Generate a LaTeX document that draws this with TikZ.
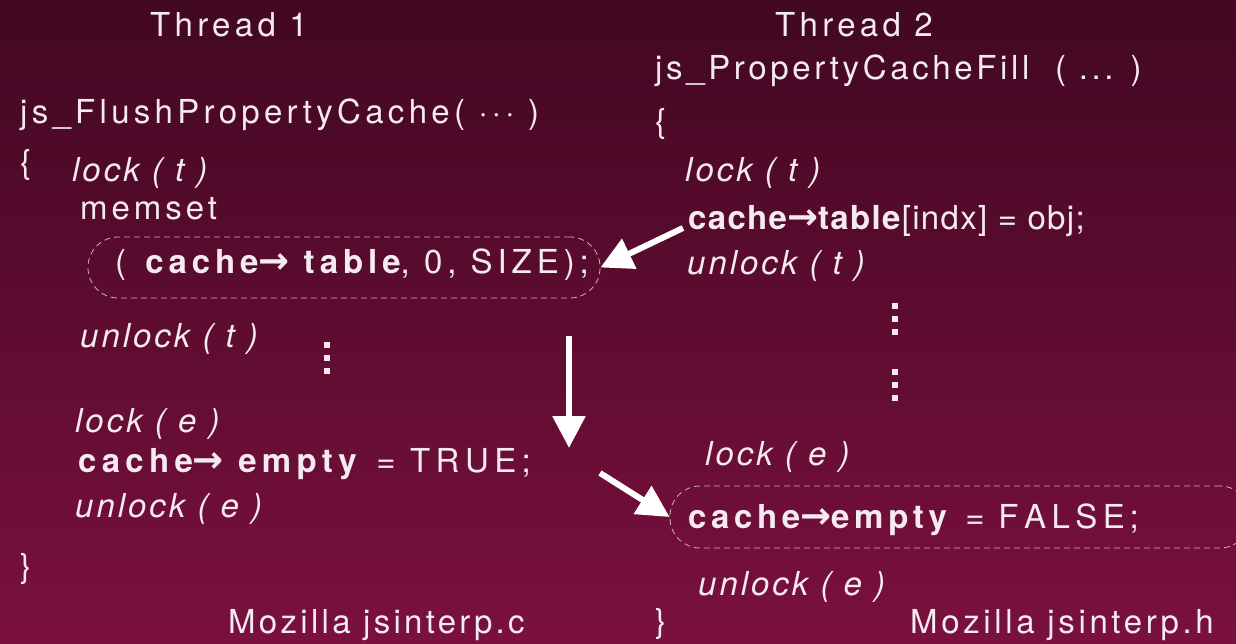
\documentclass[tikz,border=0pt]{standalone}
\usepackage{fontspec}
\setmainfont{TeX Gyre Heros}
\newfontfamily\slantfam{TeX Gyre Heros}
\newfontfamily\symfont{DejaVu Sans}
\usetikzlibrary{arrows.meta}
\definecolor{bgtop}{RGB}{66,8,34}
\definecolor{bgbot}{RGB}{122,16,62}
\definecolor{ink}{RGB}{244,234,240}
\definecolor{dashc}{RGB}{205,175,190}
\newcommand{\ptr}{{\symfont\bfseries\fontsize{37}{40}\selectfont →}}
\begin{document}
\begin{tikzpicture}[x=1pt,y=-1pt,
  txt/.style={inner sep=0pt, anchor=base west, text=ink,
    font=\fontsize{33}{36}\selectfont\addfontfeatures{LetterSpace=#1}},
  txt/.default=10,
  itx/.style={inner sep=0pt, anchor=base west, text=ink,
    font=\fontsize{33}{36}\slantfam\itshape\addfontfeatures{LetterSpace=#1}},
  itx/.default=9,
  codebox/.style={draw=dashc, dashed, dash pattern=on 6pt off 4pt, line width=0.8pt, rounded corners=30pt, inner sep=0pt},
  flow/.style={draw=white, line width=6pt, -{Triangle[length=32pt,width=32pt]}},
  vdot/.style={fill=ink, minimum size=5.5pt, inner sep=0pt}
]
% background
\fill[top color=bgtop, bottom color=bgbot] (0,0) rectangle (1236,644);
\useasboundingbox (0,0) rectangle (1236,644);

% ---- Thread 1 ----
\node[txt=13] (t1) at (150,37) {Thread 1};
\node[txt=13] (f1) at (20,124) {js\_FlushPropertyCache( ··· )};
\node[txt] (ob1) at (20,174) {\{};
\node[itx] (lt1) at (72,182) {lock ( t )};
\node[txt=12] (ms) at (80,220) {memset};
\node[codebox, minimum width=512pt, minimum height=61pt] (boxA) at (344,267.5) {};
\node[txt=15] (ms2) at (115,273) {( \textbf{cache\ptr\ table}, 0, SIZE);};
\node[itx] (ut1) at (80,347) {unlock ( t )};
\node[vdot] (d1a) at (327,345) {};
\node[vdot] (d1b) at (327,358) {};
\node[vdot] (d1c) at (327,371) {};
\node[itx] (le1) at (75,432) {lock ( e )};
\node[txt=16] (ce1) at (78,472) {\textbf{cache\ptr\ empty} = T\,R\,U\,E;};
\node[itx] (ue1) at (75,517) {unlock ( e )};
\node[txt] (cb1) at (20,577) {\}};
\node[txt] (src1) at (228,633) {Mozilla jsinterp.c};

% ---- Thread 2 ----
\node[txt=13] (t2) at (775,37) {Thread 2};
\node[txt=11] (f2) at (655,80) {js\_PropertyCacheFill\ \ ( ... )};
\node[txt] (ob2) at (655,133) {\{};
\node[itx] (lt2) at (685,182) {lock ( t )};
\node[txt=4] (ct) at (688,230) {\textbf{cache\ptr table}[indx] = obj;};
\node[itx] (ut2) at (687,275) {unlock ( t )};
\node[vdot] (d2a) at (895,306) {};
\node[vdot] (d2b) at (895,319) {};
\node[vdot] (d2c) at (895,332) {};
\node[vdot] (d3a) at (895,372) {};
\node[vdot] (d3b) at (895,385) {};
\node[vdot] (d3c) at (895,398) {};
\node[itx] (le2) at (705,465) {lock ( e )};
\node[codebox, minimum width=580pt, minimum height=62pt] (boxB) at (960,517) {};
\node[txt=14] (ce2) at (688,528) {\textbf{cache\ptr empty} = F\,A\,L\,S\,E;};
\node[itx] (ue2) at (698,595) {unlock ( e )};
\node[txt] (cb2) at (655,632) {\}};
\node[txt=11] (src2) at (910,633) {Mozilla jsinterp.h};

% ---- ordering arrows ----
\coordinate (a1s) at (683,228);
\coordinate (a2s) at (569,336);
\coordinate (a2e) at (569,448);
\coordinate (a3s) at (600,473);
\draw[flow] (a1s) -- (boxA.east);
\draw[flow] (a2s) -- (a2e);
\draw[flow] (a3s) -- (boxB.west);
\end{tikzpicture}
\end{document}
